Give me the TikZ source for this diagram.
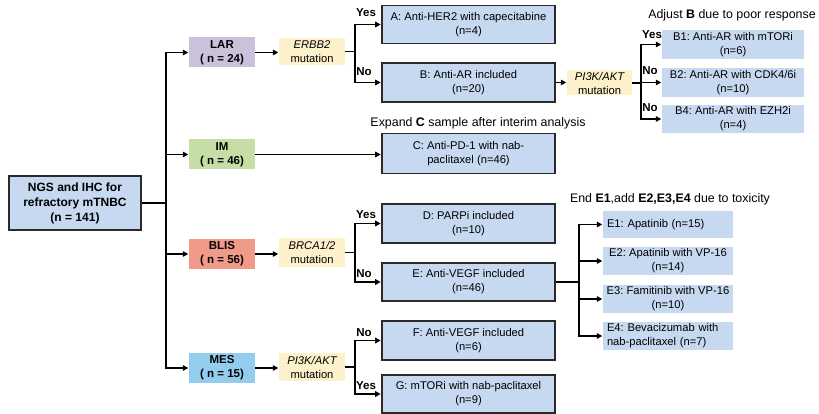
\documentclass[tikz,border=0pt]{standalone}
\usepackage{fontspec}
\setmainfont{Liberation Sans}
\usetikzlibrary{arrows.meta,calc}
\definecolor{boxblue}{HTML}{C6D9F0}
\definecolor{lar}{HTML}{CCC1DA}
\definecolor{imgreen}{HTML}{C4DEA6}
\definecolor{blis}{HTML}{F09A8A}
\definecolor{mes}{HTML}{93CDEE}
\definecolor{mut}{HTML}{FDF1CC}
\definecolor{edge}{HTML}{2A2A2A}
\frenchspacing
\tikzset{
  txt/.style={font=\frenchspacing\fontsize{11.2}{14}\selectfont},
  tbox/.style={txt, draw=edge, line width=1.6pt, fill=boxblue, minimum width=173pt, align=center, inner sep=1pt},
  sbox/.style={txt, fill=boxblue, minimum width=130pt, align=center, inner sep=1pt},
  subtype/.style={font=\bfseries\fontsize{11.5}{14}\selectfont, minimum width=66pt, minimum height=30pt, align=center, inner sep=1pt},
  mutbox/.style={txt, fill=mut, minimum width=66pt, align=center, inner sep=1pt},
  lbl/.style={font=\bfseries\fontsize{11.5}{13}\selectfont, inner sep=0pt},
  note/.style={font=\frenchspacing\fontsize{12.4}{14}\selectfont, inner sep=0pt},
  arr/.style={line width=1.6pt, draw=black, -{Triangle[length=5.5pt,width=5.5pt]}, shorten >=0.5pt},
  ln/.style={line width=1.6pt, draw=black}
}
\begin{document}
\begin{tikzpicture}[x=1pt,y=-1pt]
\useasboundingbox (0,0) rectangle (819,414);
% root
\node[draw=edge, line width=1.6pt, fill=boxblue, minimum width=132pt, minimum height=54pt, align=center, inner sep=1pt,
      font=\bfseries\fontsize{12}{15}\selectfont] (root) at (75,203) {NGS and IHC for\\refractory mTNBC\\(n = 141)};
% subtypes
\node[subtype, fill=lar] (LAR) at (222,52.5) {LAR\\( n = 24)};
\node[subtype, fill=imgreen] (IM) at (222,154.5) {IM\\( n = 46)};
\node[subtype, fill=blis] (BLIS) at (222,254) {BLIS\\( n = 56)};
\node[subtype, fill=mes] (MES) at (222,368) {MES\\( n = 15)};
% mutation boxes
\node[mutbox, minimum height=27pt] (ERBB) at (312,51.5) {\itshape ERBB2\\mutation};
\node[mutbox, minimum height=29pt] (BRCA) at (312,252.5) {\itshape BRCA1/2\\mutation};
\node[mutbox, minimum height=28pt] (PIKl) at (312,367) {\itshape PI3K/AKT\\mutation};
\node[mutbox, minimum width=65pt, minimum height=25pt] (PIKu) at (599.5,83) {\itshape PI3K/AKT\\mutation};
% treatment boxes
\node[tbox, minimum height=38pt] (A) at (468.5,24.5) {A: Anti-HER2 with capecitabine\\(n=4)};
\node[tbox, minimum height=39pt] (B) at (468.5,82.5) {B: Anti-AR included\\(n=20)};
\node[tbox, minimum height=40pt] (C) at (468.5,153.5) {C: Anti-PD-1 with nab-\\paclitaxel (n=46)};
\node[tbox, minimum height=39pt] (D) at (468.5,223.5) {D: PARPi included\\(n=10)};
\node[tbox, minimum height=38pt] (E) at (468.5,282) {E: Anti-VEGF included\\(n=46)};
\node[tbox, minimum height=39pt] (F) at (468.5,340.5) {F: Anti-VEGF included\\(n=6)};
\node[tbox, minimum height=38pt] (G) at (468.5,394) {G: mTORi with nab-paclitaxel\\(n=9)};
% B subgroups
\node[sbox, minimum width=142pt, minimum height=29pt] (B1) at (733,44.5) {B1: Anti-AR with mTORi\\(n=6)};
\node[sbox, minimum width=142pt, minimum height=29pt] (B2) at (733,82.5) {B2: Anti-AR with CDK4/6i\\(n=10)};
\node[sbox, minimum width=142pt, minimum height=28pt] (B4) at (733,119) {B4: Anti-AR with EZH2i\\(n=4)};
% E subgroups
\node[sbox, minimum height=27pt, text width=122pt, align=left] (E1) at (668,224.5) {E1: Apatinib (n=15)};
\node[sbox, minimum height=28pt] (E2) at (668,261) {E2: Apatinib with VP-16\\(n=14)};
\node[sbox, minimum height=28pt] (E3) at (668,299) {E3: Famitinib with VP-16\\(n=10)};
\node[sbox, minimum height=28pt, text width=122pt, align=left] (E4) at (668,336) {E4: Bevacizumab with\\nab-paclitaxel (n=7)};
% notes
\node[note] (nB) at (732,15) {Adjust \textbf{B} due to poor response};
\node[note] (nC) at (478,123) {Expand \textbf{C} sample after interim analysis};
\node[note] (nE) at (670,199) {End \textbf{E1},add \textbf{E2,E3,E4} due to toxicity};
% trunk
\draw[ln] (root.east) -- ++(24,0) coordinate (tr);
\draw[arr] (tr) |- (LAR.west);
\draw[arr] (tr) |- (IM.west);
\draw[arr] (tr) |- (BLIS.west);
\draw[arr] (tr) |- (MES.west);
% subtype -> mutation
\draw[arr] (LAR.east) -- (ERBB.west |- LAR.east);
\draw[arr] (BLIS.east) -- (BRCA.west |- BLIS.east);
\draw[arr] (MES.east) -- (PIKl.west |- MES.east);
\draw[arr] (IM.east) -- (C.west |- IM.east);
% ERBB2 fork
\draw[ln] (ERBB.east) -- ++(10,0) coordinate (f1);
\draw[arr] (f1) |- (A.west);
\draw[arr] (f1) |- (B.west);
\node[lbl] (y1) at (366,13) {Yes};
\node[lbl] (n1) at (364,72) {No};
% B -> PI3K
\draw[arr] (B.east) -- (PIKu.west |- B.east);
\draw[ln] (PIKu.east) -- ++(9,0) coordinate (f2);
\draw[arr] (f2) |- (B1.west);
\draw[arr] (f2) |- (B2.west);
\draw[arr] (f2) |- (B4.west);
\node[lbl] (y2) at (652,35) {Yes};
\node[lbl] (n2) at (650,71) {No};
\node[lbl] (n3) at (650,108) {No};
% BRCA fork
\draw[ln] (BRCA.east) -- ++(10,0) coordinate (f3);
\draw[arr] (f3) |- (D.west);
\draw[arr] (f3) |- (E.west);
\node[lbl] (y3) at (366,215) {Yes};
\node[lbl] (n4) at (364,274) {No};
% PI3K lower fork
\draw[ln] (PIKl.east) -- ++(10,0) coordinate (f4);
\draw[arr] (f4) |- (F.west);
\draw[arr] (f4) |- (G.west);
\node[lbl] (n5) at (364,333) {No};
\node[lbl] (y4) at (366,386) {Yes};
% E fork
\draw[ln] (E.east) -- ++(23,0) coordinate (f5);
\draw[arr] (f5) |- (E1.west);
\draw[arr] (f5) |- (E2.west);
\draw[arr] (f5) |- (E3.west);
\draw[arr] (f5) |- (E4.west);
\end{tikzpicture}
\end{document}
